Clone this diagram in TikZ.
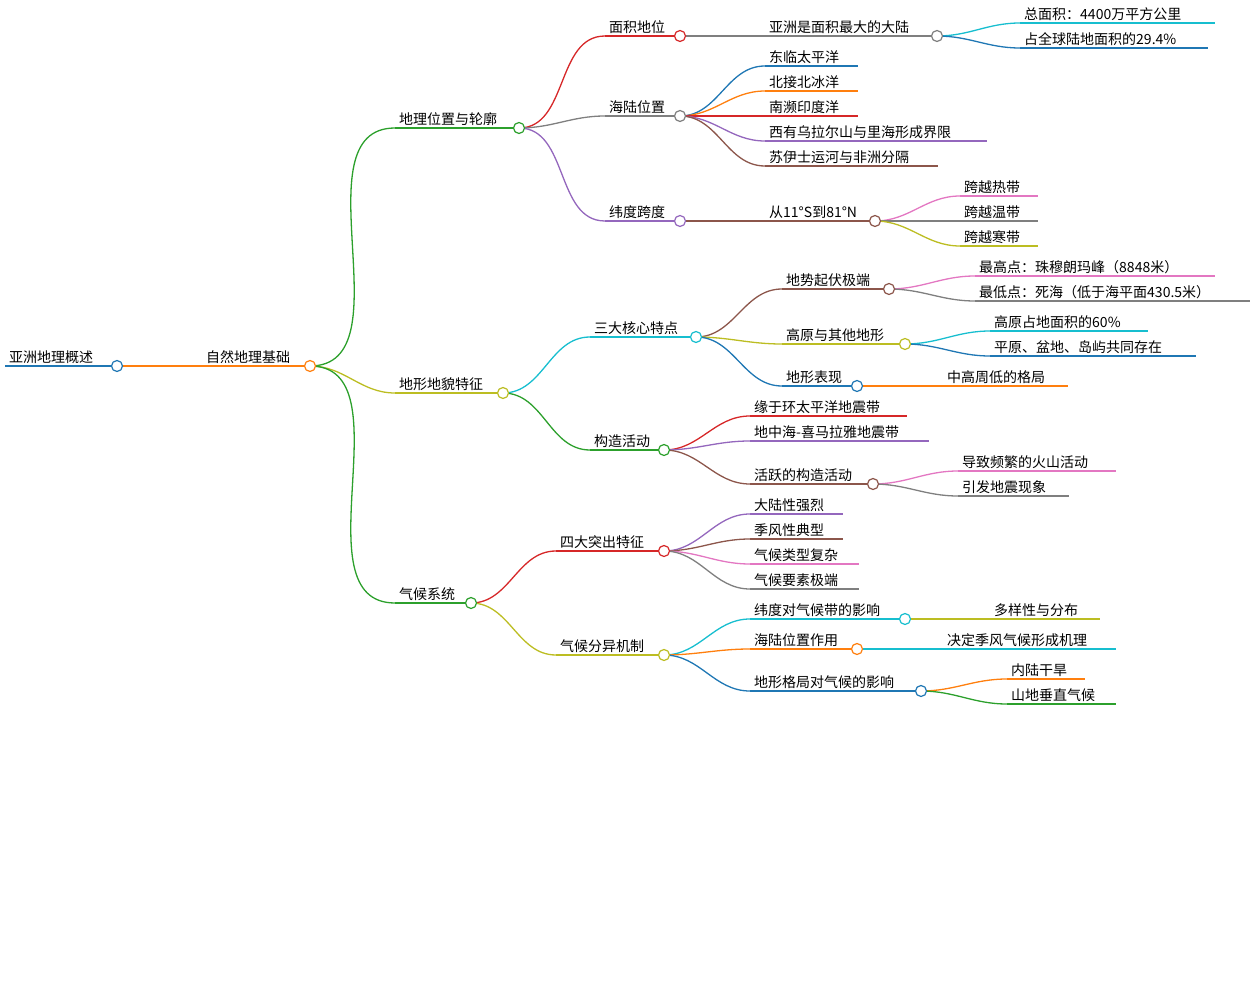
\documentclass[tikz,border=0pt]{standalone}
\usepackage{fontspec}
\setmainfont{Noto Sans CJK SC}
\definecolor{cblue}{HTML}{1F77B4}
\definecolor{corange}{HTML}{FF7F0E}
\definecolor{cgreen}{HTML}{2CA02C}
\definecolor{cred}{HTML}{D62728}
\definecolor{cpurple}{HTML}{9467BD}
\definecolor{cbrown}{HTML}{8C564B}
\definecolor{cpink}{HTML}{E377C2}
\definecolor{cgray}{HTML}{7F7F7F}
\definecolor{colive}{HTML}{BCBD22}
\definecolor{ccyan}{HTML}{17BECF}
\tikzset{
  branch/.style={line width=1.3pt},
  knob/.style={line width=1.2pt, fill=white},
  caption/.style={inner sep=1pt, anchor=south west, font=\fontsize{14}{16}\selectfont, text=black}
}
% topic: name, x start, x end, y, colour, text
\newcommand{\topic}[6]{%
  \coordinate (#1s) at (#2,#4); \coordinate (#1) at (#3,#4);
  \draw[#5,branch] (#1s) -- (#1);
  \node[caption] (#1t) at ([xshift=3pt,yshift=1pt]#1s) {#6};}
\newcommand{\link}[3]{\draw[#3,branch] (#1) to[out=0,in=180] (#2s);}
\newcommand{\knot}[2]{\draw[#2,knob] (#1) circle (5.5);}
\begin{document}
\begin{tikzpicture}[x=1pt,y=-1pt]
\useasboundingbox (0,0) rectangle (1256,992);
% root and first level
\topic{root}{5}{117}{366}{cblue,line width=3pt}{亚洲地理概述}
\topic{nat}{117}{310}{366}{corange}{\hspace{85pt}自然地理基础}
% second level
\topic{pos}{395}{519}{128}{cgreen}{地理位置与轮廓}
\topic{land}{395}{503}{393}{colive}{地形地貌特征}
\topic{clim}{395}{471}{603}{cgreen}{气候系统}
\link{nat}{pos}{cgreen}
\link{nat}{land}{colive}
\link{nat}{clim}{cgreen}
% position and outline
\topic{area}{605}{680}{36}{cred}{面积地位}
\topic{big}{765}{937}{36}{cgray}{亚洲是面积最大的大陆}
\topic{tot}{1020}{1215}{23}{ccyan}{总面积：4400万平方公里}
\topic{pct}{1020}{1208}{48}{cblue}{占全球陆地面积的29.4\%}
\topic{sea}{605}{680}{116}{cgray}{海陆位置}
\topic{e}{765}{858}{66}{cblue}{东临太平洋}
\topic{n}{765}{858}{91}{corange}{北接北冰洋}
\topic{s}{765}{858}{116}{cred}{南濒印度洋}
\topic{w}{765}{987}{141}{cpurple}{西有乌拉尔山与里海形成界限}
\topic{suez}{765}{938}{166}{cbrown}{苏伊士运河与非洲分隔}
\topic{lat}{605}{680}{221}{cpurple}{纬度跨度}
\topic{span}{765}{875}{221}{cbrown}{从11°S到81°N}
\topic{tro}{960}{1038}{196}{cpink}{跨越热带}
\topic{tem}{960}{1038}{221}{cgray}{跨越温带}
\topic{fri}{960}{1038}{246}{colive}{跨越寒带}
\link{pos}{area}{cred}
\link{pos}{sea}{cgray}
\link{pos}{lat}{cpurple}
\link{area}{big}{cgray}
\link{big}{tot}{ccyan}
\link{big}{pct}{cblue}
\link{sea}{e}{cblue}
\link{sea}{n}{corange}
\link{sea}{s}{cred}
\link{sea}{w}{cpurple}
\link{sea}{suez}{cbrown}
\link{lat}{span}{cbrown}
\link{span}{tro}{cpink}
\link{span}{tem}{cgray}
\link{span}{fri}{colive}
% landforms
\topic{core}{590}{696}{337}{ccyan}{三大核心特点}
\topic{relief}{782}{889}{289}{cbrown}{地势起伏极端}
\topic{high}{975}{1215}{276}{cpink}{最高点：珠穆朗玛峰（8848米）}
\topic{low}{975}{1250}{301}{cgray}{最低点：死海（低于海平面430.5米）}
\topic{plat}{782}{905}{344}{colive}{高原与其他地形}
\topic{sixty}{990}{1148}{331}{ccyan}{高原占地面积的60\%}
\topic{plain}{990}{1196}{356}{cblue}{平原、盆地、岛屿共同存在}
\topic{shape}{782}{857}{386}{cblue}{地形表现}
\topic{mid}{943}{1068}{386}{corange}{中高周低的格局}
\topic{tect}{590}{664}{450}{cgreen}{构造活动}
\topic{pac}{750}{907}{416}{cred}{缘于环太平洋地震带}
\topic{him}{750}{929}{441}{cpurple}{地中海-喜马拉雅地震带}
\topic{act}{750}{873}{484}{cbrown}{活跃的构造活动}
\topic{volc}{958}{1116}{471}{cpink}{导致频繁的火山活动}
\topic{quake}{958}{1069}{496}{cgray}{引发地震现象}
\link{land}{core}{ccyan}
\link{land}{tect}{cgreen}
\link{core}{relief}{cbrown}
\link{core}{plat}{colive}
\link{core}{shape}{cblue}
\link{relief}{high}{cpink}
\link{relief}{low}{cgray}
\link{plat}{sixty}{ccyan}
\link{plat}{plain}{cblue}
\link{shape}{mid}{corange}
\link{tect}{pac}{cred}
\link{tect}{him}{cpurple}
\link{tect}{act}{cbrown}
\link{act}{volc}{cpink}
\link{act}{quake}{cgray}
% climate
\topic{four}{556}{664}{551}{cred}{四大突出特征}
\topic{cont}{750}{843}{514}{cpurple}{大陆性强烈}
\topic{mons}{750}{843}{539}{cbrown}{季风性典型}
\topic{types}{750}{859}{564}{cpink}{气候类型复杂}
\topic{ext}{750}{859}{589}{cgray}{气候要素极端}
\topic{mech}{556}{664}{655}{colive}{气候分异机制}
\topic{zone}{750}{905}{619}{ccyan}{纬度对气候带的影响}
\topic{div}{990}{1100}{619}{colive}{多样性与分布}
\topic{ls}{750}{857}{649}{corange}{海陆位置作用}
\topic{mon}{943}{1116}{649}{ccyan}{决定季风气候形成机理}
\topic{topo}{750}{921}{691}{cblue}{地形格局对气候的影响}
\topic{dry}{1007}{1085}{679}{corange}{内陆干旱}
\topic{vert}{1007}{1116}{704}{cgreen}{山地垂直气候}
\link{clim}{four}{cred}
\link{clim}{mech}{colive}
\link{four}{cont}{cpurple}
\link{four}{mons}{cbrown}
\link{four}{types}{cpink}
\link{four}{ext}{cgray}
\link{mech}{zone}{ccyan}
\link{mech}{ls}{corange}
\link{mech}{topo}{cblue}
\link{zone}{div}{colive}
\link{ls}{mon}{ccyan}
\link{topo}{dry}{corange}
\link{topo}{vert}{cgreen}
% knobs
\knot{root}{cblue}
\knot{nat}{corange}
\knot{pos}{cgreen}
\knot{land}{colive}
\knot{clim}{cgreen}
\knot{area}{cred}
\knot{big}{cgray}
\knot{sea}{cgray}
\knot{lat}{cpurple}
\knot{span}{cbrown}
\knot{core}{ccyan}
\knot{relief}{cbrown}
\knot{plat}{colive}
\knot{shape}{cblue}
\knot{tect}{cgreen}
\knot{act}{cbrown}
\knot{four}{cred}
\knot{mech}{colive}
\knot{zone}{ccyan}
\knot{ls}{corange}
\knot{topo}{cblue}
\end{tikzpicture}
\end{document}
